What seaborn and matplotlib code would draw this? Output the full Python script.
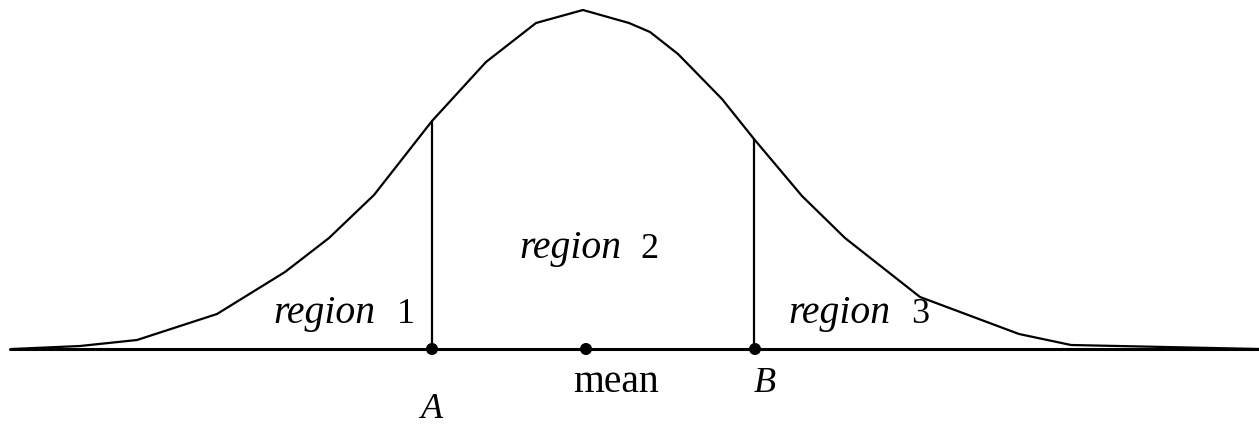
import matplotlib
matplotlib.use("Agg")
import matplotlib.pyplot as plt
import seaborn as sns
import pandas as pd

# curve vertices (x in px, height above baseline in px)
curve_x = [12, 80, 137, 217, 285, 329, 374, 432, 486, 536, 583, 629, 650,
           678, 722, 754, 802, 845, 920, 1019, 1071, 1259]
curve_y = [0, 3, 9, 35, 77, 111, 154, 228, 287, 326, 339, 326, 317,
           295, 250, 210, 153, 111, 52, 15, 4, 0]

point_names = ["A", "mean", "B"]
point_x = [432, 586, 755]
point_y = [0, 0, 0]
cut_x = [432, 754]
cut_top = [228, 210]

region_labels = ["1", "2", "3"]
region_x = [273, 519, 788]
region_num_x = [397, 640, 911]
region_y = [26, 91, 26]

sns.set_style("white")
plt.rcParams["font.family"] = ["Liberation Serif", "DejaVu Serif"]

fig = plt.figure(figsize=(12.59, 4.25), dpi=100)
ax = fig.add_axes([0, 0, 1, 1])

curve = pd.DataFrame({"x": curve_x, "y": curve_y})
sns.lineplot(data=curve, x="x", y="y", sort=False, estimator=None,
             color="black", linewidth=1.6, ax=ax)

# baseline
sns.lineplot(x=[10, 1259], y=[0, 0], sort=False, estimator=None,
             color="black", linewidth=2.2, ax=ax)

# vertical cuts at A and B
for cx, ct in zip(cut_x, cut_top):
    sns.lineplot(x=[cx, cx], y=[0, ct], sort=False, estimator=None,
                 color="black", linewidth=1.6, ax=ax)

sns.scatterplot(x=point_x, y=point_y, color="black", s=75, edgecolor="none",
                zorder=5, ax=ax)

fs = 28.5
for lab, rx, nx, ry in zip(region_labels, region_x, region_num_x, region_y):
    ax.text(rx, ry, "region", fontsize=fs, style="italic", color="black",
            ha="left", va="baseline")
    ax.text(nx, ry, lab, fontsize=26, color="black", ha="left", va="baseline")

ax.text(432, -69, point_names[0], fontsize=26, style="italic", color="black",
        ha="center", va="baseline")
ax.text(616, -43, point_names[1], fontsize=fs, color="black",
        ha="center", va="baseline")
ax.text(765, -43, point_names[2], fontsize=26, style="italic", color="black",
        ha="center", va="baseline")

ax.set_xlim(0, 1259)
ax.set_ylim(349 - 425, 349)
ax.set_axis_off()
if ax.get_legend():
    ax.get_legend().remove()

fig.savefig("out.png", dpi=100)
